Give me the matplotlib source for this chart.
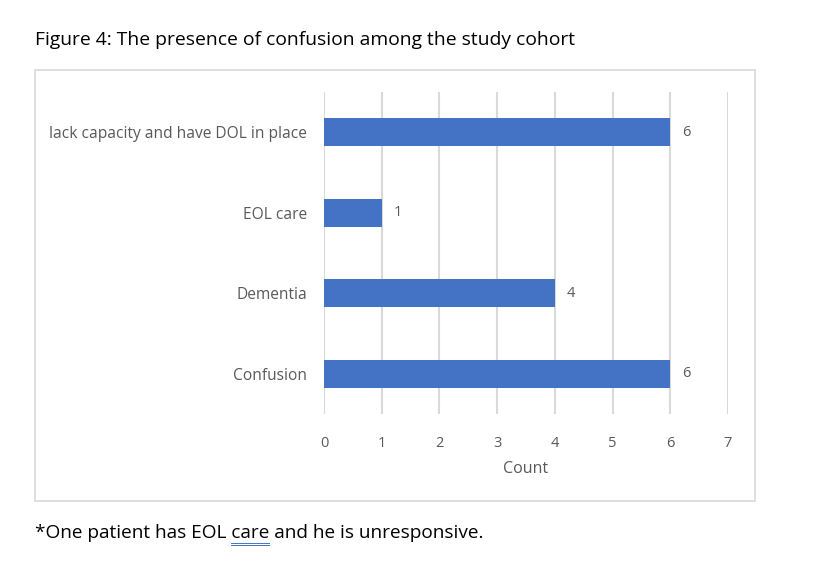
import matplotlib.pyplot as plt
from matplotlib.patches import Rectangle
from matplotlib.lines import Line2D

categories = ["Confusion", "Dementia", "EOL care", "lack capacity and have DOL in place"]
counts = [6, 4, 1, 6]
xticks = [0, 1, 2, 3, 4, 5, 6, 7]

title = "Figure 4: The presence of confusion among the study cohort"
footnote = "*One patient has EOL care and he is unresponsive."

W, H = 815, 576
fig = plt.figure(figsize=(W / 100, H / 100), dpi=100)
fig.patch.set_facecolor("white")

# chart frame
fig.patches.append(
    Rectangle((35 / W, 1 - 501 / H), 720 / W, 431 / H, transform=fig.transFigure,
              fill=False, edgecolor="#D9D9D9", linewidth=1.2)
)

ax = fig.add_axes([324 / W, 1 - 414 / H, 404 / W, 322 / H])
ypos = range(len(categories))
ax.barh(ypos, counts, height=0.35, color="#4472C4", zorder=3)
for y, v in zip(ypos, counts):
    ax.text(v + 0.2, y, str(v), va="center", ha="left", fontsize=10.5, color="#595959",
            family="Open Sans")

ax.set_xlim(0, 7)
ax.set_ylim(-0.5, len(categories) - 0.5)
ax.set_xticks(xticks)
ax.set_yticks(list(ypos))
ax.set_yticklabels(categories, fontsize=11.2, color="#595959", family="Open Sans")
ax.set_xticklabels([str(t) for t in xticks], fontsize=10.5, color="#595959", family="Open Sans")
ax.tick_params(length=0, pad=16, axis="x")
ax.tick_params(length=0, pad=12, axis="y")
ax.grid(axis="x", color="#D9D9D9", linewidth=1.5, zorder=0)
for s in ax.spines.values():
    s.set_visible(False)
ax.set_xlabel("Count", fontsize=11.5, color="#595959", family="Open Sans", labelpad=7)

fig.text(35 / W, 1 - 40 / H, title, fontsize=13.9, family="Open Sans", va="center", ha="left")
fig.text(35 / W, 1 - 533 / H, footnote, fontsize=13.7, family="Open Sans",
         va="center", ha="left")

# spell-check style underline under "care"
fig.canvas.draw()
r = fig.canvas.get_renderer()
pre = fig.text(0, 0, "*One patient has EOL ", fontsize=13.7, family="Open Sans")
word = fig.text(0, 0, "care", fontsize=13.7, family="Open Sans")
x0 = 35 + pre.get_window_extent(r).width
x1 = x0 + word.get_window_extent(r).width
pre.remove()
word.remove()
for dy in (543, 545):
    fig.lines.append(Line2D([x0 / W, x1 / W], [1 - dy / H, 1 - dy / H], transform=fig.transFigure,
                            color="#4472C4", linewidth=0.7))

plt.savefig("out.png", dpi=100)
